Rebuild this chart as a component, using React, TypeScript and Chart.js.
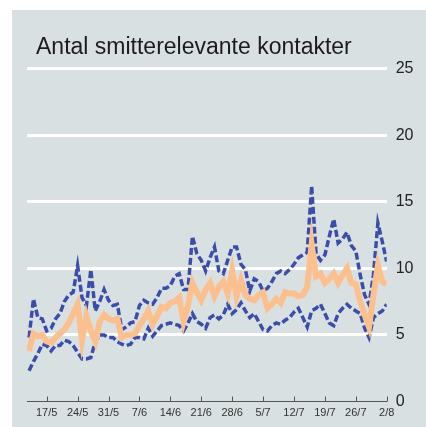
import React, { useEffect, useRef } from "react";
import { Chart, registerables } from "chart.js";

Chart.register(...registerables);

const titleText = "Antal smitterelevante kontakter";

const dates = [
  "13/5", "14/5", "15/5", "16/5", "17/5", "18/5", "19/5", "20/5", "21/5", "22/5", "23/5", "24/5", "25/5", "26/5",
  "27/5", "28/5", "29/5", "30/5", "31/5",
  "1/6", "2/6", "3/6", "4/6", "5/6", "6/6", "7/6", "8/6", "9/6", "10/6", "11/6", "12/6", "13/6", "14/6", "15/6",
  "16/6", "17/6", "18/6", "19/6", "20/6", "21/6", "22/6", "23/6", "24/6", "25/6", "26/6", "27/6", "28/6", "29/6", "30/6",
  "1/7", "2/7", "3/7", "4/7", "5/7", "6/7", "7/7", "8/7", "9/7", "10/7", "11/7", "12/7", "13/7", "14/7", "15/7",
  "16/7", "17/7", "18/7", "19/7", "20/7", "21/7", "22/7", "23/7", "24/7", "25/7", "26/7", "27/7", "28/7", "29/7",
  "30/7", "31/7",
  "1/8", "2/8",
];

const weekTicks = ["17/5", "24/5", "31/5", "7/6", "14/6", "21/6", "28/6", "5/7", "12/7", "19/7", "26/7", "2/8"];
const yTicks = [0, 5, 10, 15, 20, 25];

const median = [
  3.8, 5.1, 4.9, 5.0, 4.5, 4.4, 4.8,
  5.1, 5.4, 5.9, 6.6, 7.3, 4.6, 6.4,
  5.3, 4.5, 6.0, 6.5, 6.2, 6.1, 6.2,
  4.8, 5.0, 5.0, 5.1, 5.7, 6.2, 6.8,
  5.8, 6.4, 7.1, 7.0, 7.4, 7.5, 7.8,
  6.0, 7.2, 8.9, 8.2, 7.6, 8.4, 8.9,
  7.9, 8.6, 9.0, 8.1, 9.8, 7.9, 9.1,
  8.0, 7.7, 7.6, 8.0, 8.2, 7.0, 7.3,
  7.7, 7.4, 8.2, 8.1, 8.1, 7.9, 8.0,
  8.6, 11.8, 9.4, 9.6, 8.9, 9.2, 9.6,
  8.9, 9.5, 10.0, 8.9, 8.8, 7.5, 6.5,
  5.6, 8.0, 10.2, 9.0, 8.8,
];

const upper = [
  4.8, 7.7, 6.3, 6.2, 5.3, 5.5, 6.2,
  6.6, 7.5, 8.0, 8.2, 10.2, 7.8, 7.2,
  9.9, 6.8, 7.5, 8.4, 7.6, 7.2, 7.3,
  5.4, 5.6, 5.9, 6.0, 7.2, 7.6, 7.4,
  7.3, 7.8, 8.5, 8.5, 8.7, 9.4, 9.6,
  8.4, 8.4, 12.4, 11.1, 10.6, 9.8, 10.8,
  11.6, 9.8, 9.6, 10.6, 11.6, 11.6, 10.3,
  9.9, 8.3, 9.2, 9.0, 8.3, 8.5, 9.0,
  9.6, 9.8, 9.6, 9.9, 10.3, 10.8, 11.0,
  11.2, 16.2, 11.1, 10.6, 11.0, 12.4, 13.7,
  11.9, 12.2, 12.7, 11.7, 11.3, 9.5, 8.0,
  7.3, 9.5, 13.4, 12.0, 10.5,
];

const lower = [
  2.3, 3.0, 3.6, 4.3, 4.2, 3.8, 4.2,
  4.2, 4.6, 4.5, 4.2, 3.7, 3.2, 3.2,
  3.3, 4.5, 5.0, 5.0, 4.8, 4.8, 4.5,
  4.3, 4.2, 4.3, 4.8, 4.8, 4.7, 5.5,
  4.9, 5.3, 5.7, 5.8, 5.9, 5.8, 5.7,
  5.3, 5.9, 6.6, 6.0, 5.8, 5.5, 6.3,
  6.5, 6.2, 6.5, 7.3, 6.6, 6.9, 7.4,
  6.8, 6.3, 6.6, 6.0, 5.4, 5.3, 5.7,
  5.9, 5.8, 6.1, 6.3, 6.7, 7.0, 6.3,
  5.6, 6.8, 7.0, 7.3, 6.6, 5.9, 5.7,
  6.6, 7.0, 7.3, 7.0, 6.8, 6.6, 5.5,
  4.8, 6.3, 6.6, 6.8, 7.3,
];

const FONT = '"Liberation Sans", Arial, Helvetica, sans-serif';

export default function App() {
  const ref = useRef<HTMLCanvasElement>(null);

  useEffect(() => {
    if (!ref.current) return;
    const toPts = (arr: number[]) => arr.map((v, i) => ({ x: i, y: v }));

    const decorPlugin = {
      id: "decor",
      beforeDatasetsDraw(chart: any) {
        const ctx = chart.ctx;
        const x = chart.scales.x;
        const bottom = chart.chartArea.bottom;
        ctx.save();
        ctx.strokeStyle = "#555555";
        ctx.lineWidth = 1;
        weekTicks.forEach((l) => {
          const px = Math.round(x.getPixelForValue(dates.indexOf(l))) + 0.5;
          ctx.beginPath();
          ctx.moveTo(px, bottom);
          ctx.lineTo(px, bottom - 5);
          ctx.stroke();
        });
        ctx.restore();
      },
      afterDraw(chart: any) {
        const ctx = chart.ctx;
        ctx.save();
        ctx.font = `23px ${FONT}`;
        ctx.fillStyle = "#1c1c1c";
        ctx.textBaseline = "alphabetic";
        ctx.textAlign = "left";
        ctx.fillText(titleText, 24, 43.5);
        ctx.restore();
      },
    };

    const chart = new Chart(ref.current, {
      type: "line",
      data: {
        datasets: [
          {
            label: "Median",
            data: toPts(median),
            borderColor: "#fcc08f",
            borderWidth: 6,
            pointRadius: 0,
            tension: 0,
            order: 0,
          },
          {
            label: "Øvre",
            data: toPts(upper),
            borderColor: "#3b4dab",
            borderWidth: 3.5,
            borderDash: [7, 3],
            pointRadius: 0,
            tension: 0,
            order: 1,
          },
          {
            label: "Nedre",
            data: toPts(lower),
            borderColor: "#3b4dab",
            borderWidth: 3.5,
            borderDash: [7, 3],
            pointRadius: 0,
            tension: 0,
            order: 2,
          },
        ],
      },
      options: {
        animation: false,
        responsive: false,
        layout: { padding: { left: 15, top: 58.5, right: 0, bottom: 0 } },
        plugins: {
          legend: { display: false },
          tooltip: { enabled: false },
          title: { display: false },
        },
        scales: {
          x: {
            type: "linear",
            min: -0.46,
            max: dates.length - 1,
            afterBuildTicks: (s: any) => {
              s.ticks = weekTicks.map((l) => ({ value: dates.indexOf(l) }));
            },
            afterFit: (s: any) => {
              s.height = 25.5;
            },
            grid: {
              display: false,
              drawOnChartArea: false,
              drawTicks: false,
            },
            border: { display: true, color: "#555", width: 1, z: 1 },
            ticks: {
              callback: (v: any) => dates[v] ?? "",
              font: { family: FONT, size: 11 },
              color: "#333",
              padding: 5,
              maxRotation: 0,
              autoSkip: false,
            },
          },
          y: {
            position: "right",
            min: 0,
            max: 25,
            afterBuildTicks: (s: any) => {
              s.ticks = yTicks.map((v) => ({ value: v }));
            },
            afterFit: (s: any) => {
              s.width = 39.3;
            },
            grid: {
              display: true,
              drawOnChartArea: true,
              drawTicks: false,
              color: (c: any) => (c.tick && c.tick.value === 0 ? "rgba(0,0,0,0)" : "#ffffff"),
              lineWidth: 3,
            },
            border: { display: false },
            ticks: {
              padding: 9,
              font: { family: FONT, size: 16 },
              color: "#222",
            },
          },
        },
      },
      plugins: [decorPlugin],
    } as any);

    return () => chart.destroy();
  }, []);

  return (
    <div style={{ position: "fixed", left: 0, top: 0, width: 426, height: 427, background: "#ffffff" }}>
      <div style={{ position: "absolute", left: 12, top: 10, width: 414, height: 417, background: "#d9e0e2" }}>
        <canvas ref={ref} width={414} height={417} style={{ display: "block" }} />
      </div>
    </div>
  );
}
